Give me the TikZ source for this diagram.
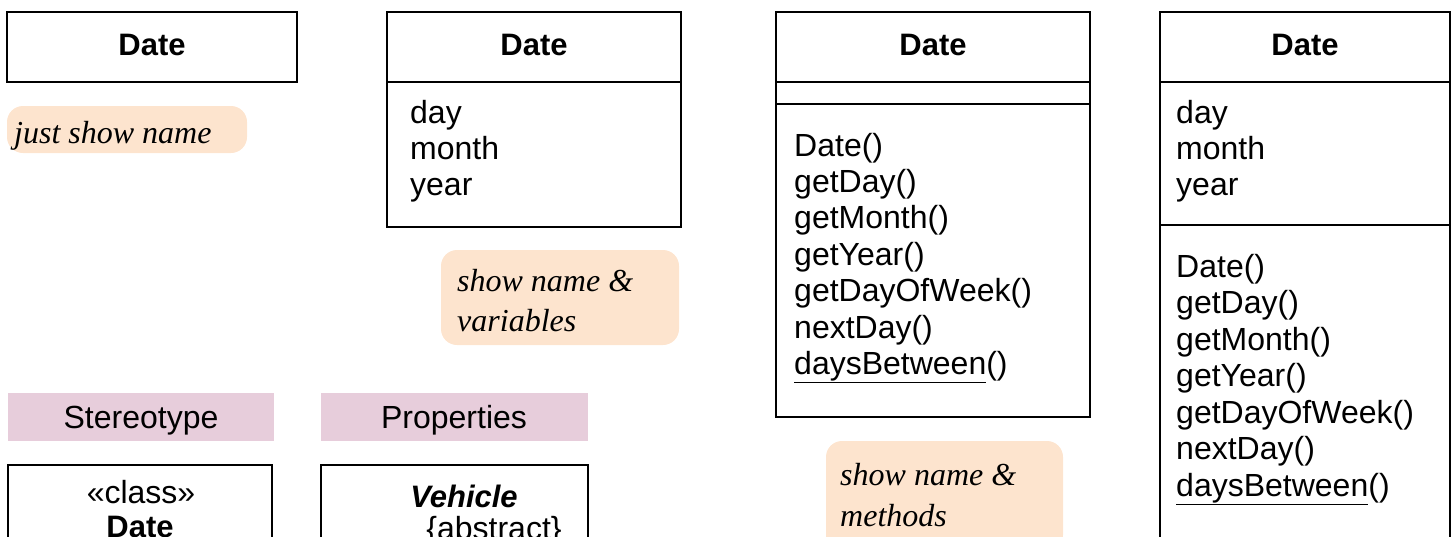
\documentclass[tikz,border=0pt]{standalone}
\usepackage{fontspec}
\setmainfont{Liberation Serif}
\setsansfont{Liberation Sans}
\definecolor{notepeach}{RGB}{253,228,206}
\definecolor{barpink}{RGB}{231,205,219}
\begin{document}
\begin{tikzpicture}[x=1pt,y=-1pt,
  umlbox/.style={draw=black, line width=2.8pt, inner sep=0pt, outer sep=0pt, anchor=north west},
  divider/.style={draw=black, line width=2.8pt},
  note/.style={fill=notepeach, rounded corners=16pt, inner sep=0pt, outer sep=0pt, anchor=north west},
  bar/.style={fill=barpink, inner sep=0pt, outer sep=0pt, anchor=north west},
  txt/.style={font=\sffamily\fontsize{32}{36}\selectfont, inner sep=0pt, anchor=base west},
  ctxt/.style={font=\sffamily\fontsize{32}{36}\selectfont, inner sep=0pt, anchor=base},
  ttl/.style={font=\sffamily\bfseries\fontsize{31}{36}\selectfont, inner sep=0pt, anchor=base},
  ital/.style={font=\rmfamily\itshape\fontsize{32}{40}\selectfont, inner sep=0pt, anchor=base west}]
\useasboundingbox (0,0) rectangle (1455,536);
\clip (0,0) rectangle (1455,536);

% Box 1: just the name
\node[umlbox, minimum width=290pt, minimum height=70pt] (b1) at (7,12) {};
\node[ttl] (b1t) at (152,55) {Date};
\node[note, minimum width=240pt, minimum height=47pt] (n1) at (7,106) {};
\node[ital] (n1t) at (14,143) {just show name};

% Box 2: name and variables
\node[umlbox, minimum width=294pt, minimum height=215pt] (b2) at (387,12) {};
\draw[divider] (b2.west |- 0,82) -- (b2.east |- 0,82);
\node[ttl] (b2t) at (534,55) {Date};
\foreach \t [count=\i from 0] in {day,month,year}
  \node[txt] (b2a\i) at (410,{123+36*\i}) {\t};
\node[note, minimum width=238pt, minimum height=95pt] (n2) at (441,250) {};
\node[ital] (n2a) at (457,291) {show name \&};
\node[ital] (n2b) at (457,331) {variables};

% Box 3: name and methods
\node[umlbox, minimum width=314pt, minimum height=405pt] (b3) at (776,12) {};
\draw[divider] (b3.west |- 0,82) -- (b3.east |- 0,82);
\draw[divider] (b3.west |- 0,104) -- (b3.east |- 0,104);
\node[ttl] (b3t) at (933,55) {Date};
\foreach \t [count=\i from 0] in {Date(),getDay(),getMonth(),getYear(),getDayOfWeek(),nextDay(),{\underline{daysBetween}()}}
  \node[txt] (b3m\i) at (794,{156+36.4*\i}) {\t};
\node[note, minimum width=237pt, minimum height=110pt] (n3) at (826,441) {};
\node[ital] (n3a) at (840,485) {show name \&};
\node[ital] (n3b) at (840,526) {methods};

% Box 4: full class
\node[umlbox, minimum width=290pt, minimum height=600pt] (b4) at (1160,12) {};
\draw[divider] (b4.west |- 0,82) -- (b4.east |- 0,82);
\draw[divider] (b4.west |- 0,225) -- (b4.east |- 0,225);
\node[ttl] (b4t) at (1305,55) {Date};
\foreach \t [count=\i from 0] in {day,month,year}
  \node[txt] (b4a\i) at (1176,{123+36*\i}) {\t};
\foreach \t [count=\i from 0] in {Date(),getDay(),getMonth(),getYear(),getDayOfWeek(),nextDay(),{\underline{daysBetween}()}}
  \node[txt] (b4m\i) at (1176,{277+36.5*\i}) {\t};

% Stereotype
\node[bar, minimum width=266pt, minimum height=48pt] (s1) at (8,393) {};
\node[ctxt] (s1t) at (141,428) {Stereotype};
\node[umlbox, minimum width=264pt, minimum height=120pt] (s2) at (8,465) {};
\node[ctxt] (s2a) at (141,503) {«class»};
\node[ttl] (s2b) at (140,537) {Date};

% Properties
\node[bar, minimum width=267pt, minimum height=48pt] (p1) at (321,393) {};
\node[ctxt] (p1t) at (454,428) {Properties};
\node[umlbox, minimum width=267pt, minimum height=120pt] (p2) at (321,465) {};
\node[ttl, font=\sffamily\bfseries\itshape\fontsize{31}{36}\selectfont] (p2a) at (464,507) {Vehicle};
\node[ctxt] (p2b) at (494,539) {\{abstract\}};
\end{tikzpicture}
\end{document}
